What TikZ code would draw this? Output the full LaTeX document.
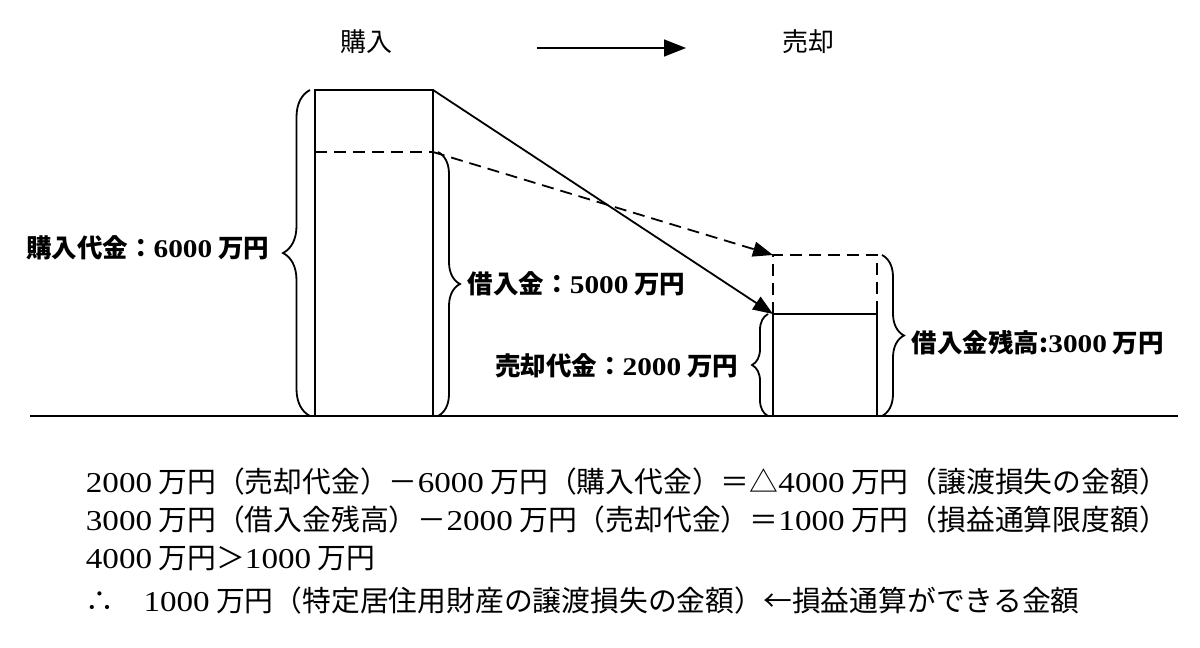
\documentclass[tikz,border=0pt]{standalone}
\usepackage{fontspec}
\setmainfont{Noto Sans CJK JP}
\newfontfamily\lat[FakeStretch=1.15]{Liberation Serif}
\usetikzlibrary{arrows.meta,decorations.pathreplacing}
\begin{document}
\begin{tikzpicture}[x=1pt,y=-1pt,line width=1.8pt,
  brc/.style={decorate,decoration={brace,amplitude=#1}},
  lbl/.style={font=\fontsize{25.5}{30}\selectfont\bfseries,inner sep=0pt},
  hdr/.style={font=\fontsize{26}{30}\selectfont,inner sep=0pt},
  eqline/.style={font=\fontsize{28.8}{32}\selectfont,anchor=west,inner sep=0pt},
  dsh/.style={dash pattern=on 12pt off 7pt},
  tipa/.style={-{Triangle[length=20pt,width=15pt]}}]
\useasboundingbox (0,0) rectangle (1200,648);
% ground
\coordinate (gl) at (30,416);
\coordinate (gr) at (1178,416);
\draw (gl) -- (gr);
% left block
\coordinate (A1) at (315,90);
\coordinate (A2) at (433,90);
\coordinate (A3) at (433,416);
\coordinate (A4) at (315,416);
\coordinate (D1) at (315,152);
\coordinate (D2) at (433,152);
\draw (A4) -- (A1) -- (A2) -- (A3);
\draw[dsh] (D1) -- (D2);
% right block
\coordinate (B1) at (773,314);
\coordinate (B2) at (877,314);
\coordinate (B3) at (877,416);
\coordinate (B4) at (773,416);
\coordinate (C1) at (773,255);
\coordinate (C2) at (877,255);
\draw (B4) -- (B1) -- (B2) -- (B3);
\draw[dsh] (B1) -- (C1) -- (C2) -- (B2);
% connectors
\draw[tipa] (A2) -- (B1);
\draw[tipa,dsh] (D2) -- (C1);
% braces
\draw[brc=27pt] (310,416) -- (310,90);
\draw[brc=22pt] (438,152) -- (438,416);
\draw[brc=16pt] (768,416) -- (768,314);
\draw[brc=22pt] (882,255) -- (882,416);
% labels
\node[lbl,anchor=east] (l1) at (270,248) {購入代金：{\lat 6000} 万円};
\node[lbl,anchor=west] (l2) at (467,284) {借入金：{\lat 5000} 万円};
\node[lbl,anchor=east] (l3) at (739,366) {売却代金：{\lat 2000} 万円};
\node[lbl,anchor=west] (l4) at (911,343) {借入金残高:{\lat 3000} 万円};
% header
\node[hdr] (h1) at (366,42) {購入};
\node[hdr] (h2) at (808,42) {売却};
\coordinate (a1) at (537,48);
\coordinate (a2) at (686,48);
\draw[line width=1.6pt,-{Triangle[length=22pt,width=17pt]}] (a1) -- (a2);
% equations
\node[eqline] (e1) at (85,482) {{\lat 2000} 万円（売却代金）－{\lat 6000} 万円（購入代金）＝△{\lat 4000} 万円（譲渡損失の金額）};
\node[eqline] (e2) at (85,520) {{\lat 3000} 万円（借入金残高）－{\lat 2000} 万円（売却代金）＝{\lat 1000} 万円（損益通算限度額）};
\node[eqline] (e3) at (85,559) {{\lat 4000} 万円＞{\lat 1000} 万円};
\node[eqline] (e4) at (85,601) {∴　{\lat 1000} 万円（特定居住用財産の譲渡損失の金額）←損益通算ができる金額};
\end{tikzpicture}
\end{document}
